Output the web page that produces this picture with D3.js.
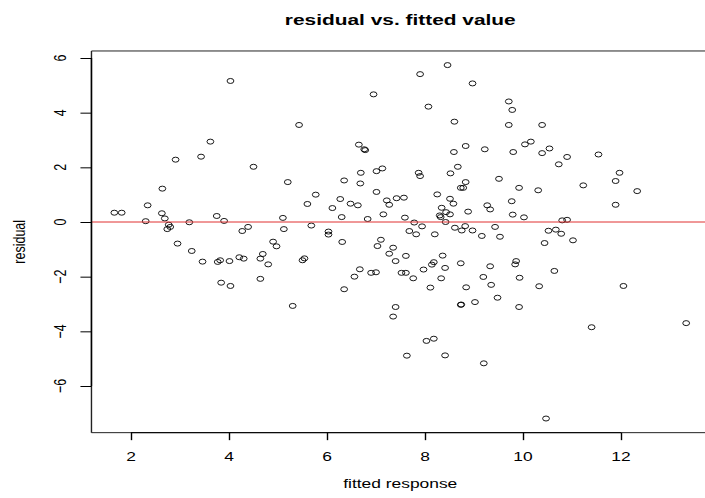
<!DOCTYPE html>
<html>
<head>
<meta charset="utf-8">
<script src="https://cdn.jsdelivr.net/npm/d3@7"></script>
<style>
  body { margin: 0; background: #fff; }
  svg { font-family: "Liberation Sans", Arial, Helvetica, sans-serif; }
  .pt { fill: none; stroke: #000; stroke-width: 0.9; }
</style>
</head>
<body>
<svg id="chart"></svg>
<script>
// fitted values and residuals
const fitted = [
  1.66, 1.81, 2.34, 2.30, 2.63, 2.69, 2.77, 2.80, 2.74, 2.64,
  2.91, 2.95, 3.19, 3.24, 3.43, 3.46, 3.62, 3.75, 3.77, 3.82,
  3.84, 3.90, 4.01, 4.03, 4.03, 4.21, 4.27, 4.30, 4.39, 4.50,
  4.64, 4.64, 4.69, 4.80, 4.90, 4.97, 5.10, 5.12, 5.20, 5.30,
  5.43, 5.50, 5.54, 5.60, 5.68, 5.77, 6.03, 6.03, 6.11, 6.27,
  6.30, 6.31, 6.35, 6.35, 6.48, 6.56, 6.63, 6.65, 6.76, 6.78,
  6.67, 6.68, 6.69, 6.83, 6.90, 6.95, 7.00, 7.01, 7.01, 7.03,
  7.10, 7.13, 7.15, 7.22, 7.27, 7.27, 7.35, 7.35, 7.40, 7.40,
  7.42, 7.52, 7.57, 7.59, 7.61, 7.61, 7.63, 7.68, 7.76, 7.78,
  7.82, 7.87, 7.90, 7.90, 7.94, 7.97, 8.03, 8.07, 8.11, 8.14,
  8.18, 8.18, 8.20, 8.25, 8.30, 8.32, 8.33, 8.34, 8.36, 8.41,
  8.41, 8.42, 8.43, 8.46, 8.51, 8.51, 8.52, 8.58, 8.59, 8.60,
  8.61, 8.67, 8.73, 8.73, 8.73, 8.74, 8.75, 8.78, 8.82, 8.83,
  8.83, 8.84, 8.88, 8.97, 8.97, 9.02, 9.16, 9.19, 9.20, 9.22,
  9.27, 9.33, 9.33, 9.35, 9.43, 9.48, 9.51, 9.53, 9.71, 9.71,
  9.77, 9.78, 9.79, 9.80, 9.84, 9.86, 9.92, 9.92, 9.93, 10.02,
  10.04, 10.16, 10.31, 10.33, 10.39, 10.39, 10.44, 10.47, 10.52, 10.54,
  10.64, 10.67, 10.73, 10.78, 10.80, 10.90, 10.90, 11.02, 11.23, 11.40,
  11.54, 11.89, 11.89, 11.97, 12.05, 12.33, 13.33
];
const resid = [
  0.34, 0.34, 0.61, 0.03, 0.32, 0.13, -0.10, -0.18, -0.26, 1.22,
  2.28, -0.79, -0.01, -1.06, 2.39, -1.45, 2.94, 0.22, -1.46, -1.40,
  -2.22, 0.04, -1.43, -2.34, 5.16, -1.29, -0.33, -1.34, -0.18, 2.02,
  -2.08, -1.34, -1.17, -1.55, -0.72, -0.89, 0.15, -0.26, 1.46, -3.07,
  3.55, -1.40, -1.33, 0.66, -0.13, 1.00, -0.35, -0.46, 0.51, 0.84,
  0.18, -0.73, 1.52, -2.46, 0.67, -2.00, 0.61, 2.83, 2.66, 2.63,
  -1.73, 1.41, 1.80, 0.11, -1.86, 4.67, -1.84, 1.86, 1.10, -0.88,
  -0.65, 1.96, 0.28, 0.79, 0.63, -1.16, -0.94, -3.46, -1.43, -3.11,
  0.87, -1.86, 0.89, 0.16, -1.86, -1.24, -4.89, -0.33, -2.06, -0.02,
  -0.45, 1.80, 1.68, 5.41, -0.16, -1.74, -4.35, 4.22, -2.40, -1.56,
  -1.47, -4.27, -0.45, 1.01, 0.24, 0.18, -2.06, 0.52, -1.23, -1.68,
  -4.88, 0.00, 0.36, 5.74, 0.28, 0.85, 1.78, 0.67, 2.56, 3.67,
  -0.21, 2.02, 1.25, -1.51, -3.03, -3.02, -0.31, 1.25, -0.15, 1.46,
  2.78, -2.39, 0.38, 5.07, -0.31, -2.93, -0.51, -2.01, -5.17, 2.66,
  0.61, 0.46, -1.62, -2.30, -0.18, -2.77, 1.58, -0.54, 4.41, 3.55,
  0.76, 4.10, 0.27, 2.56, -1.55, -1.43, 1.25, -3.11, -2.04, 0.17,
  2.84, 2.94, 1.16, -2.35, 3.55, 2.52, -0.77, -7.19, -0.32, 2.69,
  -1.79, -0.28, 2.11, -0.43, 0.06, 0.08, 2.38, -0.67, 1.34, -3.85,
  2.47, 1.50, 0.63, 1.80, -2.34, 1.13, -3.70
];
const xTicks = [2, 4, 6, 8, 10, 12];
const yTicks = [-6, -4, -2, 0, 2, 4, 6];

const W = 705, H = 498;
// the picture is stretched wider than tall, so text is too
const SX = 1.45, SY = 1.04;
const svg = d3.select("#chart").attr("width", W).attr("height", H);

// R style: axis range = data range widened by 4% each side
function pad(ext) {
  const d = (ext[1] - ext[0]) * 0.04;
  return [ext[0] - d, ext[1] + d];
}
const x = d3.scaleLinear().domain([2, 12]).range([131, 621]);
const y = d3.scaleLinear().domain([-6, 6]).range([386, 58]);
const xl = pad(d3.extent(fitted)), yl = pad(d3.extent(resid));
const boxL = x(xl[0]), boxR = x(xl[1]), boxT = y(yl[1]), boxB = y(yl[0]);

function label(px, py, txt, opts) {
  opts = opts || {};
  return svg.append("text")
    .attr("transform", "translate(" + px + "," + py + ") scale(" + SX + "," + SY + ")" + (opts.rot ? " rotate(-90)" : ""))
    .attr("text-anchor", "middle")
    .attr("font-size", opts.size || 12)
    .attr("font-weight", opts.bold ? "bold" : null)
    .attr("fill", "#000")
    .text(txt);
}

// points
svg.append("g").selectAll("ellipse")
  .data(fitted.map((f, i) => ({ f: f, r: resid[i] })))
  .enter().append("ellipse")
  .attr("class", "pt")
  .attr("cx", d => x(d.f))
  .attr("cy", d => y(d.r))
  .attr("rx", 3.4)
  .attr("ry", 2.5);

// zero line
svg.append("line")
  .attr("x1", boxL).attr("x2", boxR)
  .attr("y1", y(0)).attr("y2", y(0))
  .attr("stroke", "#e03030").attr("stroke-width", 1);

// box: vertical edges look heavier after the stretch
svg.append("path")
  .attr("d", "M" + boxL + "," + boxT + "H" + boxR + "M" + boxL + "," + boxB + "H" + boxR)
  .attr("stroke", "#222").attr("stroke-width", 1).attr("fill", "none");
svg.append("path")
  .attr("d", "M" + boxL + "," + boxT + "V" + boxB + "M" + boxR + "," + boxT + "V" + boxB)
  .attr("stroke", "#222").attr("stroke-width", 1.4).attr("fill", "none");

// x axis
const xAxis = svg.append("g")
  .attr("transform", "translate(0," + boxB + ")")
  .call(d3.axisBottom(x).tickValues(xTicks).tickSize(7.5).tickFormat(""));
xAxis.select(".domain").attr("d", "M" + x(2) + ",0H" + x(12));
xAxis.selectAll("line").attr("stroke-width", 1.4);
xTicks.forEach(t => label(x(t), 460.5, d3.format("d")(t)));

// y axis, labels turned like R
const yAxis = svg.append("g")
  .attr("transform", "translate(" + boxL + ",0)")
  .call(d3.axisLeft(y).tickValues(yTicks).tickSize(11).tickFormat(""));
yAxis.select(".domain").attr("d", "M0," + y(6) + "V" + y(-6)).attr("stroke-width", 1.4);
yTicks.forEach(t => label(66, y(t), d3.format("d")(t), { rot: true }));

// titles
const mid = (boxL + boxR) / 2;
label(mid, 25, "residual vs. fitted value", { size: 14.4, bold: true });
label(mid, 488, "fitted response");
label(25, (boxT + boxB) / 2, "residual", { rot: true });
</script>
</body>
</html>
